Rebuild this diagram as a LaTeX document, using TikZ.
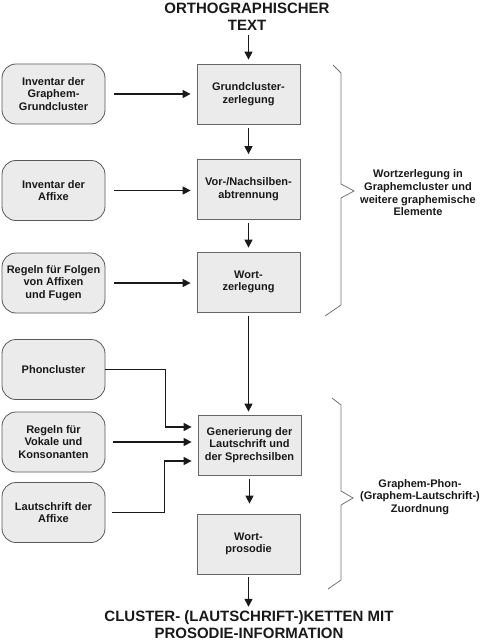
\documentclass[tikz,border=0pt]{standalone}
\usepackage{fontspec}
\setmainfont{Liberation Sans}
\usetikzlibrary{arrows.meta,calc}
\begin{document}
\begin{tikzpicture}[x=1pt,y=-1pt,
  font=\bfseries\fontsize{11}{12.7}\selectfont,
  mainbox/.style={draw=black!60, fill=black!8, line width=0.8pt, minimum width=103pt, minimum height=60pt, align=center, inner sep=2pt, text=black!90},
  srcbox/.style={draw=black!65, fill=black!8, line width=0.8pt, rounded corners=14pt, minimum width=103pt, minimum height=60pt, align=center, inner sep=2pt, text=black!90},
  arr/.style={-{Triangle[length=8pt,width=8pt]}, line width=1.4pt, black!90},
  bracepath/.style={draw=black!55, line width=0.8pt},
  bigtext/.style={font=\bfseries\fontsize{15}{17}\selectfont, align=center, text=black!90, inner sep=0pt},
  labtext/.style={align=center, text=black!90, inner sep=0pt}
]
\useasboundingbox (0,0) rectangle (482,644);

% title
\node[bigtext] (title) at (247,17) {ORTHOGRAPHISCHER\\TEXT};

% main column
\node[mainbox] (g1) at (248.5,94) {Grundcluster-\\zerlegung};
\node[mainbox] (g2) at (248.5,189.5) {Vor-/Nachsilben-\\abtrennung};
\node[mainbox] (g3) at (248.5,282) {Wort-\\zerlegung};
\node[mainbox] (g4) at (249.5,445) {Generierung der\\Lautschrift und\\der Sprechsilben};
\node[mainbox] (g5) at (248.5,544) {Wort-\\prosodie};

% output
\node[bigtext] (out) at (249,625) {CLUSTER- (LAUTSCHRIFT-)KETTEN MIT\\PROSODIE-INFORMATION};

% source boxes
\node[srcbox] (s1) at (53.5,94) {Inventar der\\Graphem-\\Grundcluster};
\node[srcbox] (s2) at (53.5,190.5) {Inventar der\\Affixe};
\node[srcbox] (s3) at (53.5,283) {Regeln f\"ur Folgen\\von Affixen\\und Fugen};
\node[srcbox] (s4) at (53.5,369.5) {Phoncluster};
\node[srcbox] (s5) at (53.5,442) {Regeln f\"ur\\Vokale und\\Konsonanten};
\node[srcbox] (s6) at (53.5,512.5) {Lautschrift der\\Affixe};

% vertical arrows
\draw[arr, shorten <=4pt, shorten >=4pt] (title.south -| g1.north) -- (g1.north);
\draw[arr, shorten <=4pt, shorten >=5pt] (g1.south) -- (g2.north);
\draw[arr, shorten <=3pt, shorten >=4pt] (g2.south) -- (g3.north);
\draw[arr, shorten <=4pt, shorten >=3pt] (g3.south) -- (g3.south |- g4.north);
\draw[arr, shorten <=4pt, shorten >=10pt] (g4.south) -- (g4.south |- g5.north);
\draw[arr, shorten <=3pt, shorten >=4pt] (g5.south) -- (g5.south |- out.north);

% horizontal arrows
\draw[arr, shorten <=9pt, shorten >=6pt] (s1.east) -- (s1.east -| g1.west);
\draw[arr, shorten <=9pt, shorten >=6pt] (s2.east) -- (s2.east -| g2.west);
\draw[arr, shorten <=9pt, shorten >=6pt] (s3.east) -- (s3.east -| g3.west);

\path (g4.west) ++(0,-18) coordinate (in1);
\path (g4.west) ++(0,16) coordinate (in3);
\draw[arr, shorten >=6pt] (s4.east) -| ([xshift=-32pt]in1) -- (in1);
\draw[arr, shorten <=8pt, shorten >=6pt] (s5.east) -- (s5.east -| g4.west);
\draw[arr, shorten <=7pt, shorten >=6pt] (s6.east) -| ([xshift=-33pt]in3) -- (in3);

% braces
\draw[bracepath] (333,65) -- (341,73) -- (341,184) -- (354,191) -- (341,198) -- (341,305) -- (325,316);
\draw[bracepath] (332,398) -- (341,405) -- (341,491) -- (353,498) -- (341,505) -- (341,580) -- (328,589);

% brace labels
\node[labtext] (lab1) at (418,193) {Wortzerlegung in\\Graphemcluster und\\weitere graphemische\\Elemente};
\node[labtext] (lab2) at (420,497) {Graphem-Phon-\\(Graphem-Lautschrift-)\\Zuordnung};
\end{tikzpicture}
\end{document}
